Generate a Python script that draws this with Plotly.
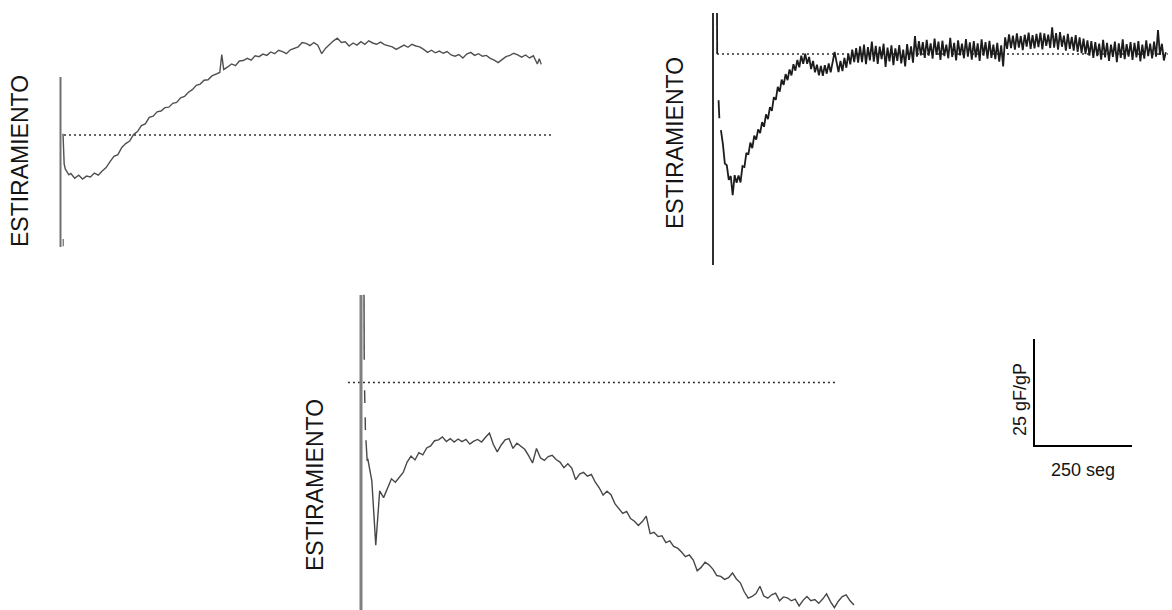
import plotly.graph_objects as go

# ---------------- figure geometry ----------------
W, H = 1172, 610
SX = 98 / 250.0     # pixels per second   (250 seg scale bar = 98 px)
SY = 107 / 25.0     # pixels per gF/gP    (25 gF/gP scale bar = 107 px)

# ---------------- data (time in s, tension in gF/gP relative to baseline) ----------------
# Panel 1 (top left)
P1_T = [0, 1, 3, 6, 10, 15, 20,
        30, 40, 50, 60, 70, 80, 90, 100, 110, 120,
        130, 140, 150, 160, 170, 180, 190, 200, 210, 220,
        230, 240, 250, 260, 270, 280, 290, 300, 310, 320,
        330, 340, 350, 360, 370, 380, 390, 400, 405, 410,
        420, 430, 440, 450, 460, 470, 480, 490, 500, 510,
        520, 530, 540, 550, 560, 570, 580, 590, 600, 610,
        620, 630, 640, 650, 660, 670, 680, 690, 700, 710,
        720, 730, 740, 750, 760, 770, 780, 790, 800, 810,
        820, 830, 840, 850, 860, 870, 880, 890, 900, 910,
        920, 930, 940, 950, 960, 970, 980, 990, 1000, 1010,
        1020, 1030, 1040, 1050, 1060, 1070, 1080, 1090, 1100, 1110,
        1120, 1130, 1140, 1150, 1160, 1170, 1180, 1190, 1200, 1210,
        1215, 1220]
P1_V = [0.3, -4.0, -6.8, -8.0, -8.6, -9.3, -9.0,
        -10.1, -9.4, -10.3, -9.6, -9.8, -8.9, -9.4, -8.4, -7.6, -6.2,
        -5.0, -4.6, -2.9, -2.0, -1.4, 0.1, 0.8, 2.2, 2.6, 4.1,
        4.4, 5.4, 5.6, 6.4, 6.5, 7.4, 7.6, 8.7, 9.0, 10.0,
        10.6, 11.6, 11.9, 12.8, 12.9, 13.8, 14.3, 14.6, 18.8, 15.3,
        15.9, 16.6, 16.2, 17.3, 17.4, 17.9, 17.5, 18.5, 18.3, 18.9,
        18.6, 19.4, 19.0, 19.8, 19.5, 19.0, 19.9, 20.3, 20.6, 21.6,
        21.4, 20.9, 21.6, 21.0, 19.0, 20.3, 21.2, 22.0, 22.6, 21.6,
        21.8, 20.8, 21.5, 21.0, 21.8, 21.2, 22.0, 21.5, 21.2, 21.7,
        21.1, 20.9, 20.6, 20.0, 20.6, 21.0, 20.5, 21.2, 20.8, 20.6,
        20.0, 19.3, 19.8, 19.2, 19.6, 19.1, 19.5, 18.7, 18.4, 18.8,
        18.0, 18.9, 19.3, 18.6, 19.0, 18.4, 18.6, 17.9, 17.5, 16.9,
        17.6, 18.3, 18.6, 19.1, 18.7, 18.2, 18.7, 18.0, 18.5, 16.6,
        17.8, 16.5]
P1_BASE_T = [2.6, 1247]
P1_MARK_T = [0.5, 0.5]
P1_MARK_V = [-24.3, -26.0]

# Panel 2 (top right)
P2_T0 = [0, 0.5, None, 4, 6, None]
P2_V0 = [9.6, 0.0, None, -10.8, -15.0, None]
P2_T = [10, 15, 20, 25, 30, 35, 40, 45, 50, 55,
        60, 65, 70, 75, 80, 85, 90, 95, 100, 105,
        110, 115, 120, 125, 130, 135, 140, 145, 150, 155,
        160, 165, 170, 175, 180, 185, 190, 195, 200, 205,
        210, 215, 220, 225, 230, 235, 240, 245, 250, 255,
        260, 265, 270, 275, 280, 285, 290, 295, 300, 305,
        310, 315, 320, 325, 330, 335, 340, 345, 350, 355,
        360, 365, 370, 375, 380, 385, 390, 395, 400, 405,
        410, 415, 420, 425, 430, 435, 440, 445, 450, 455,
        460, 465, 470, 475, 480, 485, 490, 495, 500, 505,
        510, 515, 520, 525, 530, 535, 540, 545, 550, 555,
        560, 565, 570, 575, 580, 585, 590, 595, 600, 605,
        610, 615, 620, 625, 630, 635, 640, 645, 650, 655,
        660, 665, 670, 675, 680, 685, 690, 695, 700, 705,
        710, 715, 720, 725, 730, 735, 740, 745, 750, 755,
        760, 765, 770, 775, 780, 785, 790, 795, 800, 805,
        810, 815, 820, 825, 830, 835, 840, 845, 850, 855,
        860, 865, 870, 875, 880, 885, 890, 895, 900, 905,
        910, 915, 920, 925, 930, 935, 940, 945, 950, 955,
        960, 965, 970, 975, 980, 985, 990, 995, 1000, 1005,
        1010, 1015, 1020, 1025, 1030, 1035, 1040, 1045, 1050, 1055,
        1060, 1065, 1070, 1075, 1080, 1085, 1090, 1095, 1100, 1105,
        1110, 1115, 1120, 1125, 1130, 1135, 1140, 1145]
P2_V = [-17.8, -21.0, -25.6, -26.0, -29.4, -28.5, -33.0, -28.3, -30.1, -28.4,
        -30.0, -26.2, -26.4, -23.1, -23.5, -20.7, -22.0, -19.1, -20.0, -17.6,
        -18.5, -15.9, -17.0, -14.1, -15.2, -12.4, -13.3, -10.1, -10.7, -7.7,
        -8.8, -6.0, -7.2, -4.7, -6.1, -3.6, -5.0, -2.4, -3.9, -1.4,
        -3.1, -0.4, -2.3, 0.1, -2.3, -0.7, -3.5, -1.6, -4.3, -2.5,
        -5.0, -2.8, -5.1, -2.6, -4.6, -2.2, -4.3, -1.8, 0.5, -1.9,
        -4.2, -1.6, -4.0, -0.9, -3.2, 0.1, -2.4, 1.0, -1.9, 1.4,
        -2.0, 1.8, -1.9, 2.2, -2.4, 1.6, -1.5, 2.9, -1.8, 1.9,
        -2.3, 1.7, -1.2, 2.4, -3.0, 1.5, -1.7, 2.0, -2.6, 1.3,
        -1.6, 2.1, -2.2, 1.0, -2.9, 2.3, -1.4, 1.8, -2.0, 4.2,
        -0.6, 3.0, -0.3, 2.8, -0.9, 3.3, -0.4, 2.5, -1.1, 3.6,
        -0.2, 2.9, -1.4, 3.1, -0.5, 2.2, -1.0, 3.8, -0.7, 2.6,
        -1.5, 3.2, -0.3, 2.4, -1.0, 3.5, -0.6, 2.7, -1.3, 3.0,
        -0.8, 2.5, -1.6, 3.4, -0.4, 2.8, -1.1, 3.1, -0.9, 2.2,
        -1.2, 2.6, -1.8, 2.0, -2.9, 3.9, 1.2, 4.6, 1.4, 4.3,
        1.0, 4.8, 1.5, 4.2, 0.9, 4.5, 1.7, 5.0, 1.2, 4.4,
        1.3, 4.7, 1.6, 5.0, 1.1, 4.8, 1.9, 4.5, 1.4, 6.2,
        1.5, 4.9, 1.0, 5.1, 1.7, 4.3, 0.8, 4.7, 1.2, 4.0,
        0.8, 4.4, 0.5, 3.9, 0.2, 3.6, 0.0, 3.2, -0.4, 3.0,
        -0.9, 2.8, -0.5, 2.4, -1.3, 3.3, -0.8, 2.6, -1.6, 2.2,
        -0.7, 2.9, -1.9, 2.5, -0.9, 3.4, -1.2, 2.3, -0.6, 2.8,
        -1.4, 2.6, -0.8, 3.0, -1.7, 2.2, -1.1, 3.2, -0.5, 2.4,
        -1.0, 2.9, -0.6, 5.6, -0.2, 2.4, -1.5, 0.4]
P2_BASE_T = [0, 1150]

# Panel 3 (bottom centre)
P3_T0 = [0, 0.5, None, 1.5, 2.2, None, 3.0, 3.6, None, 5.0, 8.0]
P3_V0 = [20.5, 5.3, None, -1.8, -4.8, None, -8.1, -11.1, None, -13.5, -18.1]
P3_T = [10, 20, 30, 40, 50, 60, 70, 80, 90, 100,
        110, 120, 130, 140, 150, 160, 170, 180, 190, 200,
        210, 220, 230, 240, 250, 260, 270, 280, 290, 300,
        310, 320, 330, 340, 350, 360, 370, 380, 390, 400,
        410, 420, 430, 440, 450, 460, 470, 480, 490, 500,
        510, 520, 530, 540, 550, 560, 570, 580, 590, 600,
        610, 620, 630, 640, 650, 660, 670, 680, 690, 700,
        710, 720, 730, 740, 750, 760, 770, 780, 790, 800,
        810, 820, 830, 840, 850, 860, 870, 880, 890, 900,
        910, 920, 930, 940, 950, 960, 970, 980, 990, 1000,
        1010, 1020, 1030, 1040, 1050, 1060, 1070, 1080, 1090, 1100,
        1110, 1120, 1130, 1140, 1150, 1160, 1170, 1180, 1190, 1200,
        1210, 1220, 1230, 1240, 1250]
P3_V = [-18.0, -23.0, -38.0, -25.3, -26.9, -24.6, -22.5, -23.3, -22.0, -21.0,
        -18.6, -17.2, -18.1, -16.4, -16.9, -15.3, -14.8, -13.6, -13.4, -12.7,
        -13.8, -13.1, -13.9, -13.2, -13.8, -13.3, -14.4, -13.7, -13.3, -13.9,
        -12.8, -11.8, -14.5, -16.2, -14.6, -13.4, -13.1, -15.4, -14.2, -14.9,
        -15.6, -17.1, -18.8, -15.4, -17.6, -18.2, -17.3, -17.0, -18.0, -18.6,
        -19.9, -19.0, -20.0, -22.7, -21.4, -21.0, -21.9, -21.5, -23.3, -24.6,
        -26.3, -25.4, -26.2, -28.3, -29.4, -30.6, -30.1, -31.8, -32.4, -33.4,
        -32.5, -31.2, -35.3, -35.0, -36.0, -35.8, -37.4, -37.0, -38.3, -38.7,
        -39.6, -40.7, -40.3, -41.5, -44.0, -43.2, -42.0, -42.6, -43.6, -45.1,
        -45.3, -46.0, -45.6, -44.5, -45.9, -46.8, -48.9, -50.4, -50.0, -49.3,
        -47.6, -49.9, -50.4, -49.6, -49.2, -51.0, -50.1, -50.3, -51.0, -50.6,
        -52.2, -50.9, -50.0, -51.0, -50.7, -51.6, -50.6, -49.4, -51.2, -52.6,
        -51.1, -50.0, -49.6, -51.0, -52.0]
P3_BASE_T = [-41, 1209]

# Scale bar
SCALE_T = [0, 0, 250]
SCALE_V = [25, 0, 0]
SCALE_X_LABEL = "250 seg"
SCALE_Y_LABEL = "25 gF/gP"
PANEL_LABEL = "ESTIRAMIENTO"

# ---------------- layout helpers (pixel placement) ----------------
# pixel position of (t=0, tension=0) for each panel's axes
ORIGINS = {1: (63, 135), 2: (717, 54), 3: (364, 382.5), 4: (1034, 446)}


def xr(ox):
    return [(0 - ox) / SX, (W - ox) / SX]


def yr(oy):
    return [(oy - H) / SY, oy / SY]


def px(x):
    return x / W


def py(y):
    return 1 - y / H


fig = go.Figure()

FONT = "Liberation Sans, Arial, sans-serif"


def add(x, y, n, color, width, dash=None):
    fig.add_trace(go.Scatter(
        x=x, y=y, mode="lines",
        xaxis="x" if n == 1 else f"x{n}",
        yaxis="y" if n == 1 else f"y{n}",
        line=dict(color=color, width=width, dash=dash),
        hoverinfo="skip", showlegend=False))


# panel 1
add(P1_BASE_T, [0, 0], 1, "#2e2e2e", 1.5, "2px,3px")
add(P1_T, P1_V, 1, "#505050", 1.4)
add(P1_MARK_T, P1_MARK_V, 1, "#666666", 1.2)
# panel 2
add(P2_BASE_T, [0, 0], 2, "#2e2e2e", 1.5, "2px,3px")
add(P2_T0 + P2_T, P2_V0 + P2_V, 2, "#1c1c1c", 1.8)
# panel 3
add(P3_BASE_T, [0, 0], 3, "#2e2e2e", 1.5, "2px,3px")
add(P3_T0 + P3_T, P3_V0 + P3_V, 3, "#474747", 1.4)
# scale bar
add(SCALE_T, SCALE_V, 4, "#000000", 2)

axis_common = dict(visible=False, fixedrange=True, showgrid=False, zeroline=False)
layout = dict(
    width=W, height=H,
    margin=dict(l=0, r=0, t=0, b=0),
    paper_bgcolor="white", plot_bgcolor="white",
    showlegend=False,
)
for n in (1, 2, 3, 4):
    ox, oy = ORIGINS[n]
    xa = dict(axis_common, range=xr(ox), domain=[0, 1])
    ya = dict(axis_common, range=yr(oy), domain=[0, 1])
    if n == 1:
        xa["anchor"] = "y"
        ya["anchor"] = "x"
        layout["xaxis"] = xa
        layout["yaxis"] = ya
    else:
        xa.update(anchor=f"y{n}", overlaying="x")
        ya.update(anchor=f"x{n}", overlaying="y")
        layout[f"xaxis{n}"] = xa
        layout[f"yaxis{n}"] = ya
fig.update_layout(**layout)

# vertical stretch-marker lines
VLINES = [  # x px, top px, bottom px, colour, width
    (60.5, 77, 247, "#707070", 2),
    (713, 13, 265, "#303030", 2),
    (361, 295, 610, "#808080", 3),
]
for x, t, b, c, w in VLINES:
    fig.add_shape(type="line", xref="paper", yref="paper",
                  x0=px(x), x1=px(x), y0=py(t), y1=py(b),
                  line=dict(color=c, width=w))

# labels
LABELS = [  # text, cx, cy, size, angle
    (PANEL_LABEL, 20, 161, 23, -90),
    (PANEL_LABEL, 675, 143, 23, -90),
    (PANEL_LABEL, 315, 485, 23, -90),
    (SCALE_Y_LABEL, 1020, 400, 18, -90),
    (SCALE_X_LABEL, 1083, 470, 18, 0),
]
for txt, cx, cy, sz, ang in LABELS:
    fig.add_annotation(text=txt, xref="paper", yref="paper",
                       x=px(cx), y=py(cy), xanchor="center", yanchor="middle",
                       showarrow=False, textangle=ang,
                       font=dict(family=FONT, size=sz, color="#141414"))

fig.write_html("out.html", config={"displayModeBar": False, "staticPlot": True},
               post_script="document.body.style.margin='0';document.body.style.overflow='hidden';")
